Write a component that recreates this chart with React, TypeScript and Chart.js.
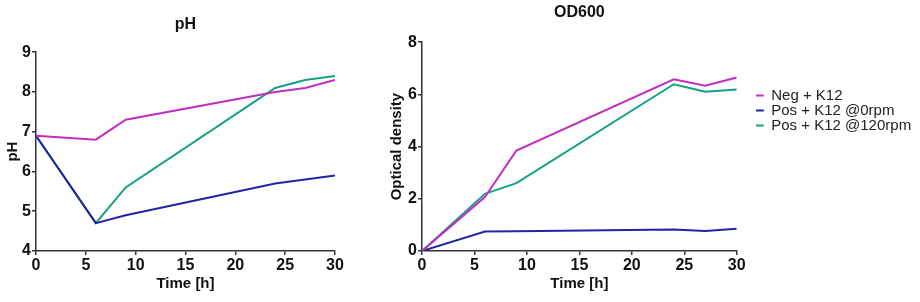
import React, { useEffect, useRef } from "react";
import { Chart, registerables } from "chart.js";

Chart.register(...registerables);

const timeH = [0, 6, 9, 24, 27, 30];
const seriesNames = ["Neg + K12", "Pos + K12 @0rpm", "Pos + K12 @120rpm"];
const seriesColors = ["#C22DC2", "#2323A6", "#12A283"];

const phNeg = [6.9, 6.8, 7.3, 8.0, 8.1, 8.3];
const phPos0 = [6.9, 4.7, 4.9, 5.7, 5.8, 5.9];
const phPos120 = [6.9, 4.7, 5.6, 8.1, 8.3, 8.4];

const odNeg = [0, 2.07, 3.85, 6.58, 6.33, 6.65];
const odPos0 = [0, 0.75, 0.76, 0.82, 0.77, 0.85];
const odPos120 = [0, 2.19, 2.6, 6.39, 6.1, 6.19];

const FONT = "'Liberation Sans', Arial, sans-serif";
const AXIS = "#333333";

function makeDatasets(values: number[][]) {
  return values.map((v, i) => ({
    label: seriesNames[i],
    data: timeH.map((t, j) => ({ x: t, y: v[j] })),
    borderColor: seriesColors[i],
    backgroundColor: seriesColors[i],
    borderWidth: 2,
    pointRadius: 0,
    tension: 0,
  }));
}

function axisCommon() {
  return {
    grid: {
      drawOnChartArea: false,
      drawTicks: true,
      tickLength: 4,
      color: AXIS,
      lineWidth: 1.5,
    },
    border: { color: AXIS, width: 1.5 },
    ticks: {
      color: "#111",
      font: { family: FONT, size: 16, weight: "bold" as const },
      padding: 1,
    },
  };
}

// moves the legend box right, leaving a gap after the plot area, and widens it
const legendShift = {
  id: "legendShift",
  afterLayout(chart: any) {
    const shift = chart.options.plugins?.legendShift?.dx || 0;
    if (chart.legend && shift && chart.options.plugins.legend.display) {
      chart.legend.left = chart.chartArea.right + shift;
      chart.legend.right = chart.legend.left + 200;
      chart.legend.width = 200;
    }
  },
};

function makeOptions(opts: {
  title: string;
  yTitle: string;
  yMin: number;
  yMax: number;
  yStep: number;
  yWidth: number;
  yTitlePad: number;
  xHeight: number;
  titlePad: { top: number; bottom: number };
  padRight: number;
  legend: boolean;
}) {
  const ax = axisCommon();
  return {
    animation: false as const,
    responsive: false,
    maintainAspectRatio: false,
    layout: { padding: { left: 0, top: 0, right: opts.padRight, bottom: 0 } },
    plugins: {
      legendShift: { dx: 19 },
      title: {
        display: true,
        text: opts.title,
        fullSize: false,
        color: "#111",
        font: { family: FONT, size: 16, weight: "bold" as const },
        padding: opts.titlePad,
      },
      legend: opts.legend
        ? {
            display: true,
            position: "right" as const,
            align: "start" as const,
            fullSize: true,
            title: {
              display: true,
              text: " ",
              font: { family: FONT, size: 10 },
              padding: { top: 76, bottom: 0 },
            },
            labels: {
              usePointStyle: true,
              pointStyle: "line",
              pointStyleWidth: 8,
              boxHeight: 2,
              padding: 0,
              color: "#222",
              font: { family: FONT, size: 15 },
            },
          }
        : { display: false },
      tooltip: { enabled: false },
    },
    scales: {
      x: {
        type: "linear" as const,
        min: 0,
        max: 30,
        ...ax,
        ticks: { ...ax.ticks, stepSize: 5 },
        title: {
          display: true,
          text: "Time [h]",
          color: "#111",
          font: { family: FONT, size: 15, weight: "bold" as const },
          padding: { top: 0, bottom: 9 },
        },
        afterFit: (s: any) => {
          s.height = opts.xHeight;
        },
      },
      y: {
        type: "linear" as const,
        min: opts.yMin,
        max: opts.yMax,
        ...ax,
        ticks: { ...ax.ticks, stepSize: opts.yStep },
        title: {
          display: true,
          text: opts.yTitle,
          color: "#111",
          font: { family: FONT, size: 15, weight: "bold" as const },
          padding: { top: opts.yTitlePad, bottom: 0 },
        },
        afterFit: (s: any) => {
          s.width = opts.yWidth;
        },
      },
    },
  };
}

function LineChart(props: {
  values: number[][];
  options: any;
  left: number;
  width: number;
}) {
  const ref = useRef<HTMLCanvasElement | null>(null);
  useEffect(() => {
    if (!ref.current) return;
    const chart = new Chart(ref.current, {
      type: "line",
      data: { datasets: makeDatasets(props.values) as any },
      options: props.options,
      plugins: [legendShift as any],
    });
    return () => chart.destroy();
  }, []);
  return (
    <canvas
      ref={ref}
      width={props.width}
      height={302}
      style={{
        position: "absolute",
        left: props.left,
        top: 0,
        width: props.width,
        height: 302,
      }}
    />
  );
}

export default function App() {
  const phOptions = makeOptions({
    title: "pH",
    yTitle: "pH",
    yMin: 4,
    yMax: 9,
    yStep: 1,
    yWidth: 36,
    yTitlePad: 4,
    xHeight: 51,
    titlePad: { top: 15, bottom: 18 },
    padRight: 25,
    legend: false,
  });
  const odOptions = makeOptions({
    title: "OD600",
    yTitle: "Optical density",
    yMin: 0,
    yMax: 8,
    yStep: 2,
    yWidth: 52,
    yTitlePad: 18,
    xHeight: 51,
    titlePad: { top: 3, bottom: 20 },
    padRight: 61,
    legend: true,
  });
  return (
    <div
      style={{
        position: "fixed",
        left: 0,
        top: 0,
        width: 920,
        height: 302,
        background: "#fff",
        overflow: "hidden",
      }}
    >
      <LineChart values={[phNeg, phPos0, phPos120]} options={phOptions} left={0} width={360} />
      <LineChart values={[odNeg, odPos0, odPos120]} options={odOptions} left={370} width={550} />
    </div>
  );
}
